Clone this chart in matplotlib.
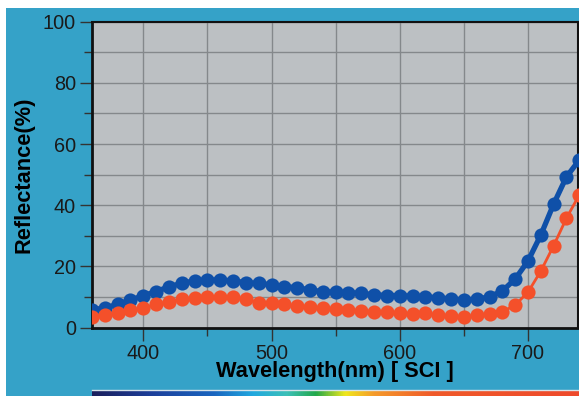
import matplotlib.pyplot as plt
import numpy as np
from matplotlib.colors import LinearSegmentedColormap
from matplotlib.patches import Rectangle

plt.rcParams['font.family'] = ['Liberation Sans', 'DejaVu Sans']

wavelength = list(range(360, 750, 10))
sample_a = [5.8, 6.5, 7.6, 9.0, 10.5, 11.8, 13.4, 14.5, 15.3, 15.6,
            15.6, 15.3, 14.7, 14.5, 14.0, 13.4, 13.1, 12.3, 11.8, 11.6,
            11.5, 11.2, 10.8, 10.5, 10.5, 10.3, 10.1, 9.8, 9.4, 9.1,
            9.3, 10.1, 12.0, 15.9, 21.8, 30.3, 40.4, 49.3, 54.8]
sample_b = [3.6, 4.1, 4.7, 5.8, 6.5, 7.6, 8.5, 9.3, 9.8, 10.1,
            10.1, 9.9, 9.3, 8.2, 8.0, 7.6, 7.1, 6.9, 6.3, 6.0,
            5.8, 5.6, 5.2, 5.0, 4.7, 4.4, 4.7, 4.1, 3.8, 3.6,
            4.0, 4.4, 5.2, 7.4, 11.6, 18.5, 26.8, 35.8, 43.4]

bg_blue = "#35a2c8"
fig = plt.figure(figsize=(5.79, 3.96), dpi=100, facecolor="white")

# blue panel behind the chart
fig.patches.append(Rectangle((6 / 579, 0), 1, 1 - 8 / 396, transform=fig.transFigure,
                             facecolor=bg_blue, edgecolor="none", zorder=-10))

ax = fig.add_axes([92 / 579, 1 - 327.7 / 396, 486 / 579, 306 / 396])
ax.set_facecolor("#bcc0c3")

ax.plot(wavelength, sample_a, color="#0f50a8", lw=3.8, marker="o", ms=10.2,
        markeredgewidth=0, zorder=3)
ax.plot(wavelength, sample_b, color="#f4502a", lw=2, marker="o", ms=10.2,
        markeredgewidth=0, zorder=3)

ax.set_xlim(360, 739)
ax.set_ylim(0, 100)
ax.set_xticks([400, 500, 600, 700])
ax.set_xticks([450, 550, 650], minor=True)
ax.set_yticks(range(0, 101, 20))
ax.set_yticks(range(10, 100, 20), minor=True)
ax.grid(True, which="both", color="#84888b", lw=1)
ax.set_axisbelow(True)

for s in ax.spines.values():
    s.set_color("#111111")
    s.set_linewidth(1.5)
ax.spines["left"].set_linewidth(2)
ax.spines["bottom"].set_linewidth(2)

ax.tick_params(which="major", length=9, width=1, color="#333333",
               labelsize=14.3, labelcolor="#1a1a1a", pad=2.5)
ax.tick_params(which="minor", length=6, width=1, color="#333333")

ax.set_xlabel("Wavelength(nm) [ SCI ]", fontsize=15.7, fontweight="bold", labelpad=-1)
ax.set_ylabel("Reflectance(%)", fontsize=15.7, fontweight="bold", labelpad=6)

# spectrum strip at the bottom
spec = LinearSegmentedColormap.from_list("spec", [
    (0.0, "#1b1f5c"), (0.12, "#1d3f9a"), (0.25, "#1a66c0"), (0.33, "#21a8df"),
    (0.40, "#3cc0b8"), (0.46, "#22a84a"), (0.52, "#f0e81c"), (0.58, "#f59a2a"),
    (0.70, "#f05a2a"), (1.0, "#ee4a2c")])
sax = fig.add_axes([92 / 579, 0, 487 / 579, 6 / 396])
sax.imshow(np.linspace(0, 1, 256)[None, :], aspect="auto", cmap=spec)
sax.set_axis_off()
fig.add_artist(plt.Line2D([92 / 579, 1], [6.5 / 396, 6.5 / 396], color="#d9e4ea",
                          lw=1, transform=fig.transFigure))

fig.savefig("out.png", dpi=100, facecolor="white")
